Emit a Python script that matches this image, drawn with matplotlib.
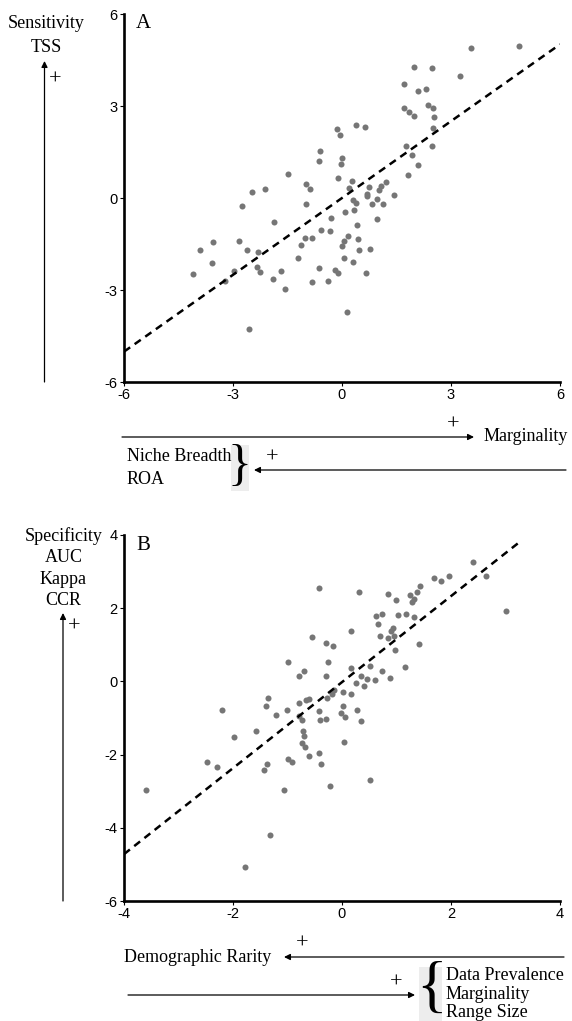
import matplotlib
matplotlib.use('Agg')
import matplotlib.pyplot as plt
from matplotlib.patches import Rectangle

plt.rcParams['font.family'] = ['Liberation Serif', 'DejaVu Serif']
plt.rcParams['axes.unicode_minus'] = False

# panel A: marginality vs sensitivity (TSS)
marg_x = [3.54, 4.88, 3.24, 1.99, 2.48, 1.71, 2.10, 2.31, 1.71, 1.85,
          1.97, 2.36, 2.51, 2.53, 2.50, 2.47, 1.75, 1.92, 2.09, 1.81,
          -0.13, -0.06, 0.38, 0.63, -0.60, -0.64, -0.01, -0.04, -1.48, -0.12,
          0.27, -0.99, -0.89, 0.19, 0.73, 1.21, 1.07, 1.02, 0.68, 0.70,
          1.43, 0.96, 0.29, -2.47, -2.12, -2.75, -1.00, 0.07, -1.87, -0.29,
          -0.58, -0.32, 0.17, 0.05, -0.01, -1.01, -0.83, -1.14, -1.21, 0.06,
          -3.54, -3.91, -3.59, -2.84, -2.61, -2.30, -2.33, -2.26, -2.98, -3.22,
          -4.09, -1.91, -1.67, -1.57, -0.64, -0.83, -0.39, -0.18, -0.12, -2.56,
          0.15, 0.82, 1.12, 0.38, 0.34, 0.97, 0.40, 0.45, 0.47, 0.77,
          0.31, 0.66]
tss_y = [4.90, 4.97, 3.97, 4.27, 4.25, 3.73, 3.50, 3.55, 2.95, 2.79,
         2.68, 3.02, 2.94, 2.63, 2.27, 1.69, 1.69, 1.40, 1.09, 0.74,
         2.24, 2.06, 2.39, 2.30, 1.53, 1.20, 1.29, 1.12, 0.77, 0.66,
         0.54, 0.46, 0.28, 0.32, 0.35, 0.52, 0.38, 0.25, 0.14, 0.07,
         0.09, -0.03, -0.07, 0.19, 0.29, -0.25, -0.21, -0.47, -0.77, -0.65,
         -1.03, -1.06, -1.24, -1.40, -1.58, -1.29, -1.32, -1.53, -1.97, -1.95,
         -1.45, -1.70, -2.12, -1.40, -1.70, -1.75, -2.25, -2.42, -2.37, -2.72,
         -2.47, -2.63, -2.38, -2.96, -2.27, -2.73, -2.70, -2.34, -2.46, -4.28,
         -3.72, -0.19, -0.18, -0.17, -0.40, -0.67, -0.87, -1.33, -1.71, -1.66,
         -2.08, -2.46]
fit_a = (0.835, 0.0)          # slope, intercept
fit_a_range = (-6, 6)
ticks_a = [-6, -3, 0, 3, 6]

# panel B: demographic rarity vs specificity
demo_x = [2.40, 2.65, 3.00, 1.69, 1.82, 1.96, 1.43, 1.38, 1.24, 0.84,
          0.99, 1.28, 1.33, -0.43, 0.31, 0.63, 0.74, 1.03, 1.17, 1.33,
          0.66, 0.94, 0.89, 0.70, 0.84, 0.95, 0.98, 1.42, 0.17, -0.55,
          -0.30, -0.17, -1.00, -0.26, -0.70, -0.78, -0.30, 0.17, 0.51, 1.16,
          0.73, 0.35, 0.45, 0.61, 0.88, 0.25, 0.40, -0.15, 0.01, 0.17,
          -0.18, -0.28, -0.60, -0.66, -1.36, -1.40, -2.20, -1.22, -1.01, -0.78,
          -0.78, -0.74, -0.42, -0.40, -0.29, 0.01, -0.01, 0.06, 0.04, -1.57,
          -1.98, -0.71, -0.70, -0.74, -0.67, -0.61, -0.42, -0.38, -1.00, -0.92,
          -1.38, -1.44, -2.48, -2.29, -3.60, -1.06, -0.22, -1.33, -1.78, 0.28,
          0.34, 0.52]
spec_y = [3.25, 2.89, 1.92, 2.82, 2.73, 2.88, 2.61, 2.45, 2.37, 2.38,
          2.22, 2.18, 2.24, 2.55, 2.44, 1.78, 1.84, 1.81, 1.84, 1.75,
          1.56, 1.47, 1.37, 1.24, 1.18, 1.23, 0.85, 1.01, 1.37, 1.22,
          1.05, 0.96, 0.52, 0.52, 0.29, 0.16, 0.15, 0.36, 0.41, 0.38,
          0.28, 0.14, 0.06, 0.03, 0.10, -0.04, -0.13, -0.23, -0.29, -0.34,
          -0.35, -0.44, -0.47, -0.51, -0.45, -0.66, -0.78, -0.91, -0.78, -0.60,
          -0.94, -1.05, -0.80, -1.05, -1.03, -0.68, -0.87, -0.97, -1.65, -1.36,
          -1.53, -1.35, -1.50, -1.67, -1.80, -2.05, -1.96, -2.25, -2.11, -2.20,
          -2.26, -2.41, -2.20, -2.33, -2.96, -2.96, -2.86, -4.21, -5.08, -0.77,
          -1.07, -2.70]
fit_b = (1.175, -0.02)
fit_b_range = (-4, 3.3)
xticks_b = [-4, -2, 0, 2, 4]
yticks_b = [-6, -4, -2, 0, 2, 4]

W, H = 572, 1021
fig = plt.figure(figsize=(W / 100, H / 100), dpi=100)


def px_axes(left, top, right, bottom):
    return fig.add_axes([left / W, 1 - bottom / H, (right - left) / W, (bottom - top) / H])


def scatter_panel(ax, xs, ys, fit, frange, xticks, yticks):
    ax.scatter(xs, ys, s=19, color='#767676', linewidths=0, zorder=2)
    slope, icpt = fit
    lx = list(frange)
    ly = [slope * v + icpt for v in lx]
    ax.plot(lx, ly, color='black', lw=1.8, linestyle=(0, (3, 2.2)), zorder=3)
    ax.set_xlim(xticks[0], xticks[-1])
    ax.set_ylim(yticks[0], yticks[-1])
    ax.set_xticks(xticks)
    ax.set_yticks(yticks)
    for s in ['top', 'right']:
        ax.spines[s].set_visible(False)
    for s in ['left', 'bottom']:
        ax.spines[s].set_linewidth(1.9)
    ax.tick_params(length=3, width=0.8, pad=1.5, labelsize=10.5)
    for lab in ax.get_xticklabels() + ax.get_yticklabels():
        lab.set_fontfamily('Liberation Sans')
    ax.patch.set_alpha(0)


axA = px_axes(124, 14, 560, 382)
scatter_panel(axA, marg_x, tss_y, fit_a, fit_a_range, ticks_a, ticks_a)
axB = px_axes(124, 535, 560, 901)
scatter_panel(axB, demo_x, spec_y, fit_b, fit_b_range, xticks_b, yticks_b)

# overlay in pixel coordinates for the annotation arrows and labels
ov = fig.add_axes([0, 0, 1, 1], zorder=-1)
ov.set_xlim(0, W)
ov.set_ylim(H, 0)
ov.axis('off')

fs = 13
arrow = dict(arrowstyle='-|>', lw=0.9, color='black', mutation_scale=9, shrinkA=0, shrinkB=0)


def arr(x0, y0, x1, y1):
    ov.annotate('', xy=(x1, y1), xytext=(x0, y0), arrowprops=arrow)


def txt(x, y, s, ha='center', size=fs):
    ov.text(x, y, s, ha=ha, va='center', fontsize=size)


# panel A labels
txt(46.5, 23, 'Sensitivity')
txt(46.5, 47, 'TSS')
arr(44.5, 382, 44.5, 61)
txt(55, 80, '+', size=16)
txt(143, 23, 'A', size=15)

arr(122, 437, 474, 437)
txt(453, 425, '+', size=16)
txt(484, 436, 'Marginality', ha='left')
txt(127, 456, 'Niche Breadth', ha='left')
txt(127, 479, 'ROA', ha='left')
ov.add_patch(Rectangle((231, 445), 18, 46, color='#ededed', lw=0))
txt(240, 467, '}', size=36)
arr(566, 470, 254, 470)
txt(272, 458, '+', size=16)

# panel B labels
txt(63.5, 536, 'Specificity')
txt(63.5, 557.5, 'AUC')
txt(63.5, 579, 'Kappa')
txt(63.5, 600, 'CCR')
arr(63, 901, 63, 613)
txt(74, 627, '+', size=16)
txt(143, 545, 'B', size=15)

txt(302, 944, '+', size=16)
txt(124, 957, 'Demographic Rarity', ha='left')
arr(564, 957, 284, 957)
txt(396, 983, '+', size=16)
arr(128, 995, 415, 995)
ov.add_patch(Rectangle((419, 967), 23, 54, color='#ededed', lw=0))
txt(431, 991, '{', size=46)
txt(446, 975, 'Data Prevalence', ha='left')
txt(446, 994, 'Marginality', ha='left')
txt(446, 1012, 'Range Size', ha='left')

fig.savefig('out.png', dpi=100)
